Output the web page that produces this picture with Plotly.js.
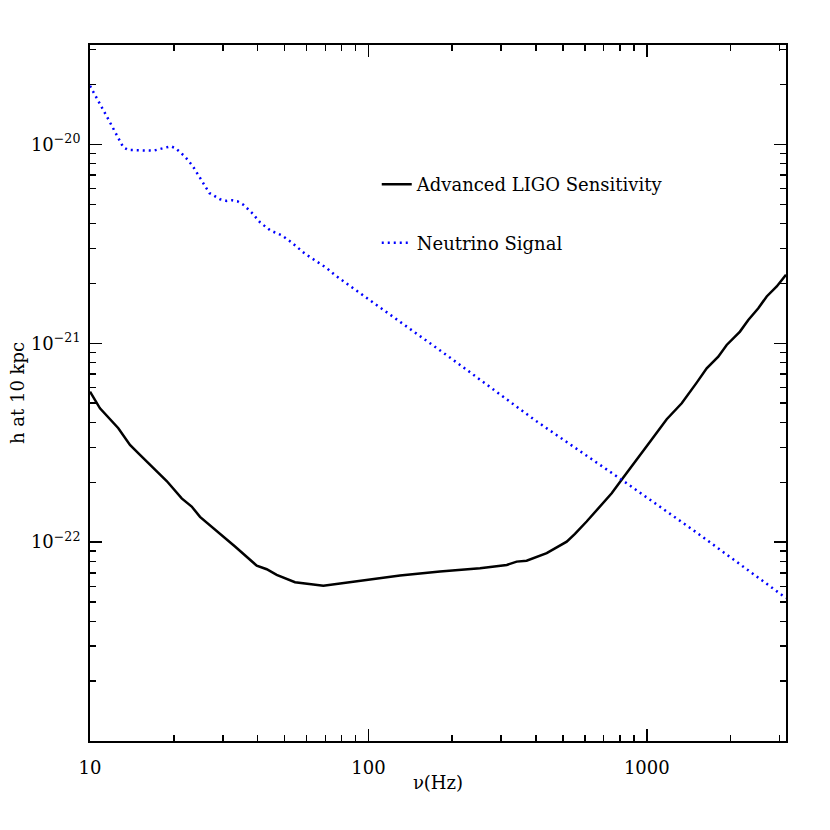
<!DOCTYPE html>
<html>
<head>
<meta charset="utf-8">
<script src="https://cdn.plot.ly/plotly-3.0.1.min.js"></script>
<style>
  html, body { margin: 0; padding: 0; background: #ffffff; }
  #chart { width: 830px; height: 830px; }
</style>
</head>
<body>
<div id="chart"></div>
<script>
// Advanced LIGO sensitivity curve
const ligoFreq = [10, 10.86, 12.64, 13.92, 15.12, 17.36, 18.86, 21.35, 23.19, 24.84,
  29.72, 33.18, 39.71, 43.13, 46.83, 54.5, 68.9, 98.6, 129.9, 180.8, 251.7, 314,
  341, 370, 437, 515.7, 552, 608, 661, 748, 812, 920, 1027, 1179, 1335, 1511,
  1641, 1806, 1936, 2161, 2315, 2515, 2696, 2929, 3162];
const ligoStrain = [5.71e-22, 4.71e-22, 3.74e-22, 3.08e-22, 2.75e-22, 2.26e-22, 2.03e-22,
  1.66e-22, 1.51e-22, 1.34e-22, 1.09e-22, 9.5e-23, 7.62e-23, 7.31e-23, 6.84e-23,
  6.29e-23, 6.03e-23, 6.46e-23, 6.79e-23, 7.11e-23, 7.40e-23, 7.68e-23, 7.98e-23,
  8.07e-23, 8.80e-23, 1.006e-22, 1.10e-22, 1.27e-22, 1.45e-22, 1.76e-22, 2.06e-22,
  2.59e-22, 3.20e-22, 4.15e-22, 4.99e-22, 6.34e-22, 7.49e-22, 8.57e-22, 9.81e-22,
  1.145e-21, 1.31e-21, 1.50e-21, 1.72e-21, 1.93e-21, 2.21e-21];

// Neutrino signal
const nuFreq = [10, 10.28, 10.57, 11.07, 11.63, 12.23, 12.82, 13.17, 13.73, 15.99,
  16.88, 18.60, 19.54, 20.32, 21.94, 23.38, 24.70, 26.04, 26.83, 29.31, 30.97,
  32.44, 33.82, 35.53, 38.09, 40.79, 42.52, 44.33, 48.82, 53.03, 59.19, 65.2,
  70.8, 75.9, 100, 200, 400, 812, 1500, 3162];
const nuStrain = [1.97e-20, 1.84e-20, 1.73e-20, 1.52e-20, 1.34e-20, 1.18e-20, 1.03e-20,
  9.67e-21, 9.38e-21, 9.30e-21, 9.30e-21, 9.63e-21, 9.79e-21, 9.56e-21, 8.68e-21,
  7.79e-21, 6.84e-21, 6.06e-21, 5.70e-21, 5.30e-21, 5.20e-21, 5.24e-21, 5.18e-21,
  4.98e-21, 4.54e-21, 4.06e-21, 3.86e-21, 3.70e-21, 3.49e-21, 3.21e-21, 2.82e-21,
  2.58e-21, 2.39e-21, 2.20e-21, 1.67e-21, 8.32e-22, 4.07e-22, 2.06e-22, 1.125e-22,
  5.24e-23];

const xTickVals = [10, 100, 1000];
const xTickText = ['10', '100', '1000'];
const yTickVals = [1e-22, 1e-21, 1e-20];
const yTickText = ['10<sup>\u221222</sup>', '10<sup>\u221221</sup>', '10<sup>\u221220</sup>'];

const font = 'DejaVu Serif, serif';

const axisCommon = {
  type: 'log',
  showline: true,
  linecolor: '#000',
  linewidth: 2,
  mirror: 'allticks',
  ticks: 'inside',
  ticklen: 12,
  tickwidth: 1.5,
  tickcolor: '#000',
  tickmode: 'array',
  showgrid: false,
  zeroline: false,
  minor: { dtick: 'D1', ticks: 'inside', ticklen: 6, tickwidth: 1.5, tickcolor: '#000', showgrid: false },
  tickfont: { family: font, size: 18, color: '#000' },
};

Plotly.newPlot('chart', [
  {
    x: ligoFreq,
    y: ligoStrain,
    type: 'scatter',
    mode: 'lines',
    name: 'Advanced LIGO Sensitivity',
    legendgroup: 'a',
    line: { color: '#000', width: 2.5 },
  },
  {
    x: nuFreq,
    y: nuStrain,
    type: 'scatter',
    mode: 'lines',
    name: 'Neutrino Signal',
    legendgroup: 'b',
    line: { color: '#0000ff', width: 2.5, dash: '2px,4px' },
  },
], {
  width: 830,
  height: 830,
  margin: { l: 90, r: 44, t: 45, b: 89 },
  paper_bgcolor: '#ffffff',
  plot_bgcolor: '#ffffff',
  font: { family: font, color: '#000' },
  showlegend: true,
  legend: {
    x: 0.412, y: 0.826, xanchor: 'left', yanchor: 'top',
    bgcolor: 'rgba(0,0,0,0)',
    font: { family: font, size: 18, color: '#000' },
    traceorder: 'grouped',
    tracegroupgap: 32,
  },
  xaxis: Object.assign({}, axisCommon, {
    range: [1, 3.5],
    tickvals: xTickVals,
    ticktext: xTickText,
    ticklabelstandoff: 9,
    title: { text: '\u03bd(Hz)', font: { family: font, size: 18, color: '#000' }, standoff: 0 },
  }),
  yaxis: Object.assign({}, axisCommon, {
    range: [-23, -19.5],
    tickvals: yTickVals,
    ticktext: yTickText,
    ticklabelstandoff: 4,
    title: { text: 'h at 10 kpc', font: { family: font, size: 18, color: '#000' }, standoff: 2 },
  }),
}, { staticPlot: true });
</script>
</body>
</html>
